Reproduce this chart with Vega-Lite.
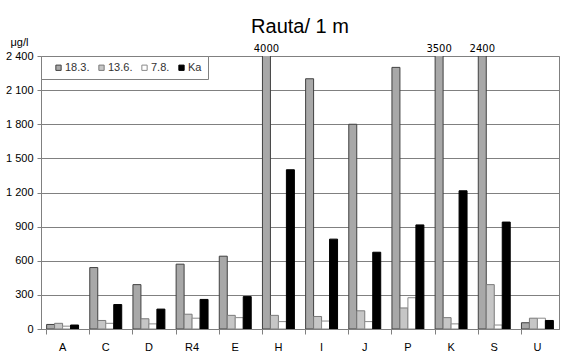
{
  "$schema": "https://vega.github.io/schema/vega-lite/v6.json",
  "width": 518,
  "height": 273,
  "autosize": "none",
  "padding": {"left": 41, "top": 56, "right": 24, "bottom": 34},
  "background": "white",
  "title": {"text": "Rauta/ 1 m", "font": "Liberation Sans", "fontSize": 20, "fontWeight": "normal", "color": "#000000", "anchor": "middle", "offset": 0, "dy": 1},
  "config": {
    "view": {"stroke": "#808080", "strokeWidth": 1},
    "font": "Liberation Sans"
  },
  "data": {"values": [
    {"site": "A", "series": "18.3.", "value": 40}, {"site": "A", "series": "13.6.", "value": 50}, {"site": "A", "series": "7.8.", "value": 25}, {"site": "A", "series": "Ka", "value": 35},
    {"site": "C", "series": "18.3.", "value": 540}, {"site": "C", "series": "13.6.", "value": 75}, {"site": "C", "series": "7.8.", "value": 50}, {"site": "C", "series": "Ka", "value": 215},
    {"site": "D", "series": "18.3.", "value": 390}, {"site": "D", "series": "13.6.", "value": 90}, {"site": "D", "series": "7.8.", "value": 45}, {"site": "D", "series": "Ka", "value": 175},
    {"site": "R4", "series": "18.3.", "value": 570}, {"site": "R4", "series": "13.6.", "value": 130}, {"site": "R4", "series": "7.8.", "value": 95}, {"site": "R4", "series": "Ka", "value": 260},
    {"site": "E", "series": "18.3.", "value": 640}, {"site": "E", "series": "13.6.", "value": 120}, {"site": "E", "series": "7.8.", "value": 100}, {"site": "E", "series": "Ka", "value": 285},
    {"site": "H", "series": "18.3.", "value": 4000}, {"site": "H", "series": "13.6.", "value": 120}, {"site": "H", "series": "7.8.", "value": 65}, {"site": "H", "series": "Ka", "value": 1400},
    {"site": "I", "series": "18.3.", "value": 2200}, {"site": "I", "series": "13.6.", "value": 110}, {"site": "I", "series": "7.8.", "value": 70}, {"site": "I", "series": "Ka", "value": 790},
    {"site": "J", "series": "18.3.", "value": 1800}, {"site": "J", "series": "13.6.", "value": 160}, {"site": "J", "series": "7.8.", "value": 65}, {"site": "J", "series": "Ka", "value": 675},
    {"site": "P", "series": "18.3.", "value": 2300}, {"site": "P", "series": "13.6.", "value": 185}, {"site": "P", "series": "7.8.", "value": 275}, {"site": "P", "series": "Ka", "value": 915},
    {"site": "K", "series": "18.3.", "value": 3500}, {"site": "K", "series": "13.6.", "value": 100}, {"site": "K", "series": "7.8.", "value": 45}, {"site": "K", "series": "Ka", "value": 1215},
    {"site": "S", "series": "18.3.", "value": 2400}, {"site": "S", "series": "13.6.", "value": 390}, {"site": "S", "series": "7.8.", "value": 35}, {"site": "S", "series": "Ka", "value": 940},
    {"site": "U", "series": "18.3.", "value": 55}, {"site": "U", "series": "13.6.", "value": 95}, {"site": "U", "series": "7.8.", "value": 95}, {"site": "U", "series": "Ka", "value": 75}
  ]},
  "encoding": {
    "x": {
      "field": "site", "type": "nominal", "sort": null,
      "scale": {"paddingInner": 0.26, "paddingOuter": 0.13},
      "axis": {"title": null, "labelAngle": 0, "labelFontSize": 11, "labelColor": "#000000", "labelPadding": 7, "tickSize": 5, "bandPosition": 0, "tickColor": "#808080", "domainColor": "#808080", "grid": false}
    },
    "xOffset": {"field": "series", "type": "nominal", "sort": ["18.3.", "13.6.", "7.8.", "Ka"]}
  },
  "layer": [
    {
      "mark": {"type": "bar", "clip": true, "strokeWidth": 1},
      "encoding": {
        "y": {
          "field": "value", "type": "quantitative",
          "scale": {"domain": [0, 2400], "nice": false},
          "axis": {
            "values": [0, 300, 600, 900, 1200, 1500, 1800, 2100, 2400],
            "labelOverlap": false,
            "labelExpr": "replace(format(datum.value, ','), ',', ' ')",
            "labelFontSize": 11, "labelColor": "#000000", "labelPadding": 4,
            "tickSize": 4, "tickColor": "#808080", "domainColor": "#808080",
            "gridColor": "#808080", "gridWidth": 1,
            "title": "μg/l", "titleAngle": 0, "titleFontSize": 11, "titleFontWeight": "normal", "titleColor": "#000000",
            "titleX": -22, "titleY": -9, "titleAlign": "center", "titleBaseline": "bottom"
          }
        },
        "fill": {
          "field": "series", "type": "nominal",
          "scale": {"domain": ["18.3.", "13.6.", "7.8.", "Ka"], "range": ["#a8a8a8", "#c6c6c6", "#ffffff", "#000000"]},
          "legend": {
            "title": null, "orient": "top-left", "offset": 0, "direction": "horizontal",
            "strokeColor": "#808080", "fillColor": "#ffffff", "padding": 6,
            "symbolType": "square", "symbolSize": 28, "symbolStrokeWidth": 1, "symbolOffset": 6,
            "labelFontSize": 11, "labelColor": "#333333", "labelOffset": 1,
            "columnPadding": 0
          }
        },
        "stroke": {
          "field": "series", "type": "nominal",
          "scale": {"domain": ["18.3.", "13.6.", "7.8.", "Ka"], "range": ["#404040", "#7a7a7a", "#8a8a8a", "#000000"]},
          "legend": {
            "title": null, "orient": "top-left", "offset": 0, "direction": "horizontal",
            "strokeColor": "#808080", "fillColor": "#ffffff", "padding": 6,
            "symbolType": "square", "symbolSize": 28, "symbolStrokeWidth": 1, "symbolOffset": 6,
            "labelFontSize": 11, "labelColor": "#333333", "labelOffset": 1,
            "columnPadding": 0
          }
        }
      }
    },
    {
      "transform": [{"filter": "datum.value >= 2400"}],
      "mark": {"type": "text", "fontSize": 10, "baseline": "bottom", "dy": -2, "color": "#000000", "font": "DejaVu Sans"},
      "encoding": {
        "y": {
          "datum": 2400, "type": "quantitative",
          "axis": {
            "values": [0, 300, 600, 900, 1200, 1500, 1800, 2100, 2400],
            "labelOverlap": false,
            "labelExpr": "replace(format(datum.value, ','), ',', ' ')",
            "labelFontSize": 11, "labelColor": "#000000", "labelPadding": 4,
            "tickSize": 4, "tickColor": "#808080", "domainColor": "#808080",
            "gridColor": "#808080", "gridWidth": 1,
            "title": "μg/l", "titleAngle": 0, "titleFontSize": 11, "titleFontWeight": "normal", "titleColor": "#000000",
            "titleX": -22, "titleY": -9, "titleAlign": "center", "titleBaseline": "bottom"
          }
        },
        "text": {"field": "value", "type": "quantitative", "format": "d"}
      }
    }
  ]
}
